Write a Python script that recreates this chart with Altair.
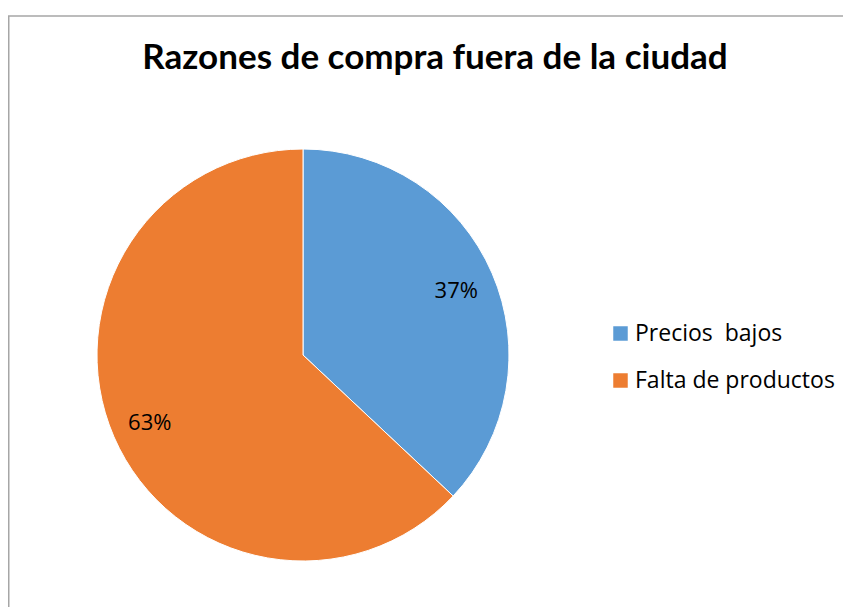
import altair as alt
import pandas as pd

categories = ["Precios  bajos", "Falta de productos"]
values = [37, 63]
labels = ["37%", "63%"]
order = [0, 1]
colors = ["#5B9BD5", "#ED7D31"]
chart_title = "Razones de compra fuera de la ciudad"

df = pd.DataFrame({"cat": categories, "val": values, "lab": labels, "ord": order})

W, H = 835, 591
CX, CY = 295, 339
R = 206
BORDER = "#A6A6A6"

base = alt.Chart(df).encode(
    theta=alt.Theta("val:Q", stack=True),
    order=alt.Order("ord:Q"),
)

pie = base.mark_arc(radius=R, stroke="white", strokeWidth=1).encode(
    x=alt.value(CX), y=alt.value(CY),
    color=alt.Color(
        "cat:N",
        scale=alt.Scale(domain=categories, range=colors),
        sort=categories,
        legend=alt.Legend(
            title=None, orient="none", legendX=601, legendY=306,
            symbolType="square", symbolSize=210, symbolStrokeWidth=0,
            labelFont="Open Sans", labelFontSize=23, labelColor="#000000",
            labelExpr="replace(datum.label, '  ', ' \u00a0')",
            rowPadding=23, labelOffset=3, labelLimit=400,
        ),
    ),
)

txt = base.mark_text(radius=167, dy=2, font="Open Sans", fontSize=22, color="#000000").encode(
    x=alt.value(CX), y=alt.value(CY),
    text="lab:N",
)

title = alt.Chart(pd.DataFrame({"t": [chart_title]})).mark_text(
    font="Lato", fontSize=35, fontWeight="bold", color="#000000", baseline="middle", align="center"
).encode(x=alt.value(427), y=alt.value(42), text="t:N")

border_df = pd.DataFrame({"k": [0]})
top_line = alt.Chart(border_df).mark_rule(color=BORDER, strokeWidth=1.5).encode(
    x=alt.value(0), x2=alt.value(W), y=alt.value(0)
)
left_line = alt.Chart(border_df).mark_rule(color=BORDER, strokeWidth=1.5).encode(
    x=alt.value(0.75), y=alt.value(0), y2=alt.value(H)
)

chart = alt.layer(top_line, left_line, pie, txt, title).properties(
    width=W, height=H,
    autosize=alt.AutoSizeParams(type="none"),
    padding={"top": 8, "left": 0, "right": 0, "bottom": 0},
).configure_view(strokeWidth=0)

chart.save("out.html", embed_options={"renderer": "svg", "actions": False})
